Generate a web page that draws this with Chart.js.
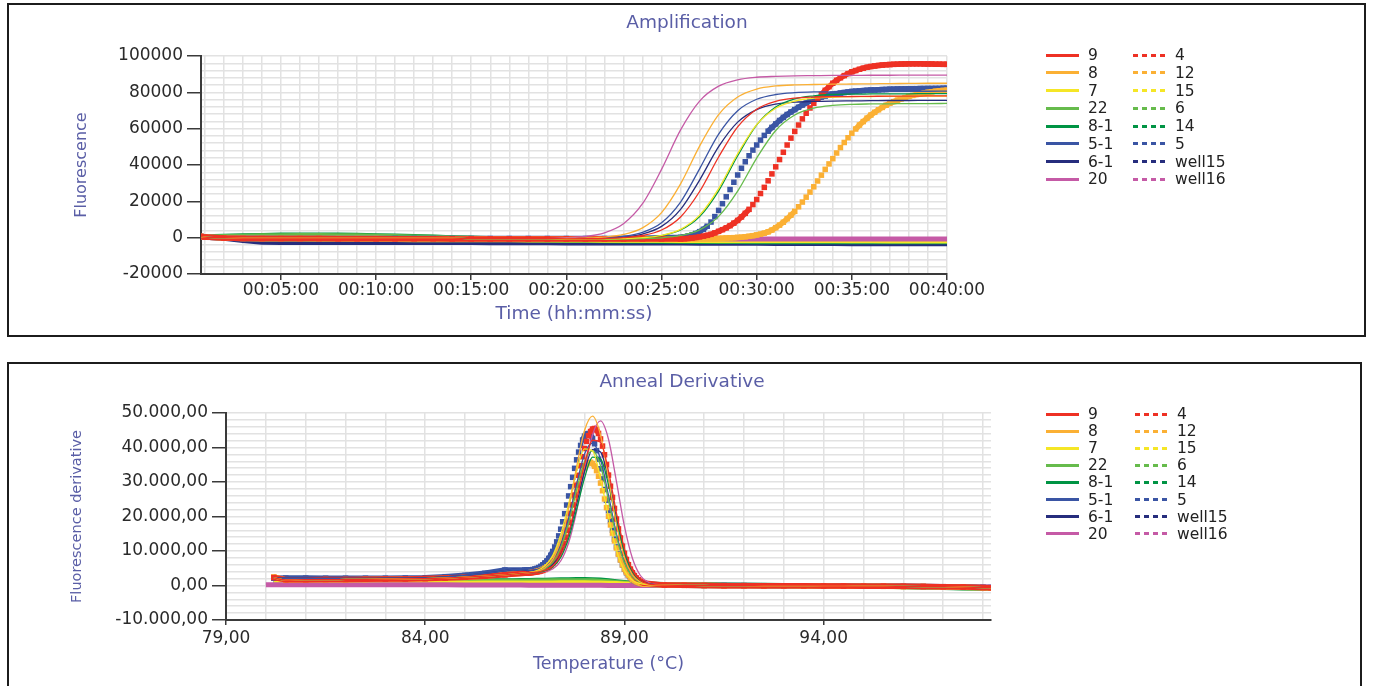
<!DOCTYPE html>
<html>
<head>
<meta charset="utf-8">
<script src="https://cdn.jsdelivr.net/npm/chart.js@4.4.1/dist/chart.umd.min.js"></script>
<style>
  body { margin: 0; background: #fff; font-family: "DejaVu Sans", sans-serif; }
  .panel { position: absolute; border: 2px solid #1c1c1c; overflow: hidden; background: #fff; }
  .title { position: absolute; color: #5a5ea6; font-size: 18.5px; line-height: 22px; transform: translateX(-50%); white-space: nowrap; }
  .row { position: absolute; height: 20px; line-height: 20px; font-size: 15.5px; color: #222; white-space: nowrap; }
  .sw { position: absolute; top: 8.5px; height: 3px; }
</style>
</head>
<body>
<div class="panel" style="left:7px;top:3px;width:1355px;height:330px;">
  <canvas id="ampChart" width="1355" height="330"></canvas>
</div>
<div class="title" style="left:687px;top:11px;">Amplification</div>

<div class="panel" style="left:7px;top:362px;width:1351px;height:330px;">
  <canvas id="meltChart" width="1351" height="322"></canvas>
</div>
<div class="title" style="left:682px;top:370px;">Anneal Derivative</div>

<div id="legends"></div>

<script>
// legend names and colours (same in both charts)
const solidNames = ['9', '8', '7', '22', '8-1', '5-1', '6-1', '20'];
const dotNames = ['4', '12', '15', '6', '14', '5', 'well15', 'well16'];
const wellColors = ['#ee3124', '#fbb034', '#f5e626', '#66bb4c', '#009444', '#3a55a4', '#262d7d', '#c55aa6'];

// ---------- Amplification (time in minutes) ----------
const ampTime = [0.8,1,2,3,4,5,6,7,8,9,10,11,12,13,14,15,16,17,18,19,20,21,22,23,24,25,26,27,28,29,30,31,32,33,34,35,36,37,38,39,40];

const amp9 = [600,300,0,-200,-300,-300,-300,-300,-300,-300,-300,-300,-300,-300,-300,-500,-500,-500,-500,-500,-650,-600,-450,0,1200,4200,11400,25400,44400,61000,70700,75000,76800,77400,77600,77700,77800,77900,77900,78000,78000];
const amp8 = [600,300,0,-200,-300,-300,-300,-300,-300,-300,-300,-300,-300,-300,-300,-500,-500,-500,-500,-500,-400,-200,350,1750,5400,13800,29600,50400,67700,77400,81800,83500,84100,84300,84500,84600,84700,84800,84900,85000,85000];
const amp7 = [600,300,0,-200,-300,-300,-300,-300,-300,-300,-300,-300,-300,-300,-300,-500,-500,-500,-500,-500,-750,-750,-700,-500,0,1300,4600,12400,27000,46200,62200,71200,75200,76800,77300,77600,77700,77800,77800,77900,77900];
const amp22 = [600,300,0,-200,-300,-300,-300,-300,-300,-300,-300,-300,-300,-300,-300,-500,-500,-500,-500,-500,-750,-750,-750,-700,-500,-100,1200,4300,11700,25600,43800,59000,67500,71300,72800,73400,73600,73700,73800,73800,73900];
const amp81 = [600,300,0,-200,-300,-300,-300,-300,-300,-300,-300,-300,-300,-300,-300,-500,-500,-500,-500,-500,-750,-750,-700,-550,-100,1100,4200,11600,25800,45100,62100,71900,76400,78100,78800,79000,79100,79200,79200,79300,79300];
const amp51 = [600,300,0,-200,-300,-300,-300,-300,-300,-300,-300,-300,-300,-300,-300,-500,-500,-500,-500,-500,-550,-400,-100,700,2900,8200,19600,37900,57000,69900,76200,78800,79800,80200,80300,80400,80500,80500,80600,80600,80700];
const amp61 = [600,300,0,-200,-300,-300,-300,-300,-300,-300,-300,-300,-300,-300,-300,-500,-500,-500,-500,-500,-650,-550,-300,300,2000,6200,15600,31700,50100,63600,70500,73500,74600,75000,75200,75300,75400,75500,75500,75600,75600];
const amp20 = [600,300,0,-200,-300,-300,-300,-300,-300,-300,-300,-300,-300,-300,-300,-500,-500,-500,-500,-500,-50,700,2700,7700,18700,37600,59300,75200,83400,86900,88300,88800,89100,89200,89300,89300,89400,89400,89500,89500,89500];

// flat (no amplification) wells
const amp15 = [600,300,-200,-500,-700,-800,-800,-900,-900,-1000,-1000,-1000,-1100,-1100,-1100,-1200,-1200,-1200,-1300,-1300,-1300,-1300,-1400,-1400,-1400,-1400,-1500,-1500,-1500,-1500,-1500,-1600,-1600,-1600,-1600,-1600,-1600,-1700,-1700,-1700,-1700];
const amp6 = [500,400,600,800,1000,1100,1200,1200,1100,1000,800,600,400,200,0,-200,-400,-600,-800,-1000,-1100,-1200,-1300,-1400,-1500,-1600,-1700,-1700,-1800,-1800,-1800,-1900,-1900,-1900,-1900,-2000,-2000,-2000,-2000,-2000,-2000];
const amp14 = [500,500,800,1000,1200,1400,1500,1500,1400,1300,1100,900,600,300,0,-300,-600,-900,-1100,-1300,-1500,-1600,-1700,-1800,-1900,-2000,-2000,-2100,-2100,-2100,-2200,-2200,-2200,-2200,-2300,-2300,-2300,-2300,-2300,-2300,-2300];
const ampWell15 = [600,200,-300,-1500,-2500,-2600,-2600,-2600,-2600,-2600,-2600,-2600,-2600,-2700,-2700,-2700,-2800,-2800,-2800,-2800,-2900,-2900,-2900,-3000,-3000,-3000,-3000,-3100,-3100,-3100,-3100,-3200,-3200,-3200,-3200,-3300,-3300,-3300,-3300,-3300,-3300];
const ampWell16 = [400,100,-100,-200,-200,-300,-300,-300,-300,-300,-300,-400,-400,-400,-400,-400,-500,-500,-500,-500,-500,-500,-500,-600,-600,-600,-600,-600,-600,-700,-700,-700,-700,-700,-700,-700,-800,-800,-800,-800,-800];

// rising wells drawn with markers, one reading every 12 s after 26 min
const ampTimeFine = [0.8,1,2,3,4,5,6,7,8,9,10,11,12,13,14,15,16,17,18,19,20,21,22,23,24,25,
  26,26.2,26.4,26.6,26.8,27,27.2,27.4,27.6,27.8,28,28.2,28.4,28.6,28.8,29,29.2,29.4,29.6,29.8,
  30,30.2,30.4,30.6,30.8,31,31.2,31.4,31.6,31.8,32,32.2,32.4,32.6,32.8,33,33.2,33.4,33.6,33.8,
  34,34.2,34.4,34.6,34.8,35,35.2,35.4,35.6,35.8,36,36.2,36.4,36.6,36.8,37,37.2,37.4,37.6,37.8,
  38,38.2,38.4,38.6,38.8,39,39.2,39.4,39.6,39.8,40];
const amp4 = [700,300,-200,-400,-500,-500,-500,-500,-600,-600,-600,-600,-600,-600,-700,-700,-700,-700,-700,-700,-700,-700,-700,-700,-700,-700,
  -700,-550,-400,-200,100, 450,850,1300,1850,2600, 3500,4400,5400,6600,8000, 9500,11400,13400,15600,18200,
  21000,24300,27700,31300,35100, 39000,43000,47000,51000,54800, 58500,62000,65400,68500,71400, 74000,76500,78900,81100,83100,
  85000,86600,88000,89200,90300, 91300,92000,92700,93300,93800, 94200,94500,94800,95000,95200, 95300,95400,95500,95600,95650,
  95700,95700,95700,95700,95650, 95600,95600,95500,95500,95400, 95400];
const amp12 = [700,300,-200,-400,-500,-500,-500,-500,-500,-500,-500,-600,-600,-600,-600,-600,-600,-600,-600,-600,-600,-600,-600,-600,-600,-600,
  -600,-600,-600,-550,-550, -500,-500,-500,-450,-450, -400,-300,-200,-100,0, 150,300,500,750,1100,
  1500,1950,2500,3200,4200, 5500,6900,8500,10400,12400, 14500,17000,19600,22300,25100, 28000,31200,34400,37600,40600,
  43500,46600,49600,52400,55000, 57500,59800,62000,63900,65800, 67500,69000,70400,71700,72900, 74000,74900,75700,76400,77100,
  77800,78300,78800,79200,79600, 80000,80300,80600,80850,81050, 81200];
const amp5 = [700,300,-200,-400,-500,-500,-500,-500,-500,-500,-500,-500,-500,-500,-500,-500,-500,-500,-500,-500,-500,-500,-500,-450,-300,-100,
  200,500,900,1500,2300, 3300,4600,6300,8600,11600, 15000,18700,22500,26500,30500, 34500,38200,41800,45100,48200,
  51000,53700,56300,58600,60700, 62600,64500,66200,67800,69200, 70500,71800,73000,74100,75100, 76000,76700,77400,78000,78500,
  79000,79300,79600,79900,80200, 80500,80650,80800,80950,81100, 81250,81300,81400,81500,81600, 81700,81750,81800,81850,81900,
  81950,82000,82000,82050,82050, 82100,82100,82150,82150,82200, 82200];

// ---------- Anneal derivative (temperature in °C) ----------
const meltTemp = [80.0,80.2,80.5,81,81.5,82,82.5,83,83.5,84,84.5,85,85.5,86,
  86.2,86.4,86.6,86.8,87,87.2,87.4,87.6,87.8,88,88.2,88.4,88.6,88.8,89,89.2,89.4,89.6,89.8,90,
  90.5,91,91.5,92,92.5,93,93.5,94,94.5,95,95.5,96,96.5,97,97.5,98,98.2];

const melt9 = [null,2200,1600,1700,1700,1750,1800,1850,1900,2000,2150,2400,2700,3100,
  3300,3500,3650,3850,4350,5600,8800,15200,24800,35200,42100,41500,33100,21000,10750,4500,1550,500,170,110,
  50,0,-50,-50,-100,-100,-100,-150,-150,-200,-200,-250,-300,-350,-450,-600,-650];
const melt8 = [null,2200,1600,1700,1700,1750,1800,1850,1900,2000,2150,2400,2700,3100,
  3300,3500,3700,4100,5100,7500,13000,22300,34400,45000,49100,43600,31100,17700,8100,3100,1000,350,150,100,
  50,0,-50,-50,-100,-100,-100,-150,-150,-200,-200,-250,-300,-350,-450,-600,-650];
const melt7 = [null,2200,1600,1700,1700,1750,1800,1850,1900,2000,2150,2400,2700,3100,
  3300,3530,3750,4300,5640,8700,14700,23600,33200,39600,39000,31000,19850,10200,4300,1550,520,215,110,100,
  50,0,-50,-50,-100,-100,-100,-150,-150,-200,-200,-250,-300,-350,-450,-600,-650];
const melt22 = [null,2200,1600,1700,1700,1750,1800,1850,1900,2000,2150,2400,2700,3100,
  3300,3510,3670,4000,4770,6680,10900,18200,27700,36000,39100,34700,24700,14100,6500,2500,830,300,130,100,
  50,0,-50,-50,-100,-100,-100,-150,-150,-200,-200,-250,-300,-350,-450,-600,-650];
const melt81 = [null,2200,1600,1700,1700,1750,1800,1850,1900,2000,2150,2400,2700,3100,
  3300,3500,3630,3840,4260,5340,8140,13700,22100,31200,37200,36700,29200,18600,9500,4000,1380,450,160,100,
  50,0,-50,-50,-100,-100,-100,-150,-150,-200,-200,-250,-300,-350,-450,-600,-650];
const melt51 = [null,2100,2100,2100,2050,2050,2050,2100,2100,2200,2500,2900,3500,4300,
  4700,4600,4400,4600,5500,7550,11900,19500,29400,38100,41300,36600,26100,14900,6900,2700,900,350,180,100,
  50,0,-50,-50,-100,-100,-100,-150,-150,-200,-200,-250,-300,-350,-450,-600,-650];
const melt61 = [null,2100,2100,2100,2050,2050,2050,2100,2100,2200,2500,2900,3500,4300,
  4700,4600,4330,4450,5000,6150,9000,14800,23600,33100,39400,38700,30800,19650,10100,4200,1500,520,215,110,
  50,0,-50,-50,-100,-100,-100,-150,-150,-200,-200,-250,-300,-350,-450,-600,-650];
const melt20 = [null,2200,1600,1700,1700,1750,1800,1850,1900,2000,2150,2400,2700,3100,
  3300,3500,3600,3800,4100,4800,7100,12400,21500,33300,43700,47700,42400,30100,17200,7900,2900,950,300,150,
  50,0,-50,-50,-100,-100,-100,-150,-150,-200,-200,-250,-300,-350,-450,-600,-650];

const melt15 = [null,700,600,600,600,600,600,600,600,600,650,650,700,700,
  700,700,700,750,750,750,800,800,800,800,750,700,650,550,450,350,300,250,200,150,
  100,50,0,0,-50,-100,-100,-150,-200,-200,-250,-300,-350,-400,-500,-600,-650];
const melt6 = [null,1300,1000,1000,1000,1050,1050,1050,1100,1100,1100,1150,1150,1200,
  1200,1250,1250,1300,1300,1350,1350,1400,1400,1400,1350,1250,1100,900,700,550,450,350,300,250,
  200,150,100,50,0,0,-50,-100,-150,-200,-250,-300,-400,-500,-650,-800,-850];
const melt14 = [null,1500,1200,1200,1200,1250,1250,1250,1300,1300,1300,1350,1350,1400,
  1400,1450,1450,1500,1550,1600,1650,1700,1750,1750,1700,1600,1400,1100,850,650,500,400,350,300,
  250,200,150,100,50,0,-50,-100,-150,-200,-250,-350,-450,-550,-700,-800,-850];
const meltWell15 = [null,900,700,700,700,700,700,700,700,700,750,750,750,800,
  800,800,800,800,850,850,850,850,850,800,750,700,600,500,400,300,250,200,150,150,
  100,50,0,0,-50,-50,-100,-100,-150,-150,-200,-250,-300,-350,-450,-550,-600];
const meltWell16 = [200,200,200,250,250,250,250,200,200,200,200,150,150,150,
  150,150,100,100,100,100,50,50,50,50,50,50,0,0,0,0,0,0,0,0,
  0,0,-50,-50,-50,-100,-100,-100,-150,-150,-200,-200,-250,-300,-350,-400,-450];

// marker wells with a peak: dense readings across the melt peak
const meltTempFine = [80.2,80.5,81,81.5,82,82.5,83,83.5,84,84.5,85,85.5,86,86.5,
  86.55,86.6,86.65,86.7,86.75,86.8,86.85,86.9,86.95,87,
  87.05,87.1,87.15,87.2,87.25,87.3,87.35,87.4,87.45,87.5,
  87.55,87.6,87.65,87.7,87.75,87.8,87.85,87.9,87.95,88,
  88.05,88.1,88.15,88.2,88.25,88.3,88.35,88.4,88.45,88.5,
  88.55,88.6,88.65,88.7,88.75,88.8,88.85,88.9,88.95,89,
  89.05,89.1,89.15,89.2,89.25,89.3,89.35,89.4,89.45,89.5,
  90,90.5,91,91.5,92,92.5,93,93.5,94,94.5,95,95.5,96,96.5,97,97.5,98,98.2];
const melt4 = [2300,1700,1700,1750,1750,1800,1850,1900,2000,2150,2400,2700,3100,3550,
  3610,3650,3700,3770,3850,3950,4050,4190,4380,4630,
  4910,5280,5770,6390,7150,8090,9230,10590,12160,13970,
  16020,18300,20790,23450,26230,29090,31940,34720,37330,39710,
  41760,43420,44630,45330,45500,45090,44070,42480,40410,37900,
  35070,32000,28780,25540,22340,19270,16410,13780,11420,9330,
  7550,6030,4760,3710,2860,2180,1650,1230,930,700,
  110,50,0,-50,-50,-100,-100,-100,-150,-150,-200,-200,-250,-300,-350,-450,-600,-650];
const melt12 = [2500,1600,1650,1700,1700,1750,1800,1850,1950,2100,2350,2700,3150,3550,
  3640,3690,3760,3840,3940,4080,4220,4420,4670,5000,
  5360,5830,6430,7160,8030,9060,10280,11680,13240,14980,
  16880,18910,21040,23220,25410,27530,29520,31340,32900,34160,
  35070,35590,35700,35360,34550,33300,31660,29680,27470,25080,
  22580,20050,17560,15180,12930,10870,9030,7400,5990,4790,
  3800,2990,2320,1790,1380,1050,800,605,470,370,
  110,60,0,-50,-50,-100,-100,-150,-150,-200,-200,-250,-300,-300,-400,-500,-650,-700];
const melt5 = [2100,2150,2150,2100,2100,2100,2100,2150,2250,2550,2950,3550,4500,4500,
  4490,4460,4540,4630,4770,4950,5210,5550,5980,6520,
  7110,7860,8770,9880,11160,12650,14380,16320,18470,20820,
  23320,25960,28650,31350,33960,36430,38670,40600,42150,43280,
  43920,44050,43630,42630,41080,39050,36600,33840,30910,27840,
  24730,21680,18750,15990,13450,11180,9180,7450,5970,4730,
  3720,2900,2230,1710,1310,1010,775,600,480,390,
  150,80,30,0,-30,-60,-100,-100,-150,-150,-200,-200,-250,-300,-350,-450,-550,-600];

// ---------- helpers ----------
Chart.defaults.font.family = '"DejaVu Sans", sans-serif';
Chart.defaults.color = '#2a2a2a';

const pts = (xs, ys) => xs.map((x, i) => ({x: x, y: ys[i]}));
const onStep = (v, step) => Math.abs(v / step - Math.round(v / step)) < 1e-6;
// marker wells: a thick line where the curve is flat, loose squares where it climbs
const hideSteep = ctx => Math.abs(ctx.p1.y - ctx.p0.y) > 4 ? 'rgba(0,0,0,0)' : undefined;

function thin(label, xs, ys, color) {
  return {label, data: pts(xs, ys), borderColor: color, borderWidth: 1.3, pointRadius: 0,
    cubicInterpolationMode: 'monotone', order: 0};
}
function band(label, xs, ys, color, order) {
  return {label, data: pts(xs, ys), borderColor: color, borderWidth: 5, pointRadius: 0, order: order};
}
function dots(label, xs, ys, color) {
  return {label, data: pts(xs, ys), borderColor: color, borderWidth: 5.5, pointRadius: 3.9,
    pointStyle: 'rect', pointBorderWidth: 0, pointBackgroundColor: color,
    segment: {borderColor: hideSteep}, order: 1};
}
function deNum(v, dec) {
  const parts = Math.abs(v).toFixed(dec).split('.');
  const int = parts[0].replace(/\B(?=(\d{3})+(?!\d))/g, '.');
  return (v < 0 ? '-' : '') + int + ',' + parts[1];
}

function axis(opts) {
  return {
    type: 'linear', min: opts.min, max: opts.max,
    afterFit: opts.fit,
    border: {color: '#3a3a3a', width: 2},
    grid: {
      color: '#e2e2e2', lineWidth: 1.5, tickLength: opts.tickLength, tickWidth: 1.5,
      tickColor: ctx => opts.major(ctx.tick.value) ? '#3a3a3a' : 'rgba(0,0,0,0)'
    },
    ticks: {
      stepSize: opts.step, autoSkip: false, includeBounds: false, maxRotation: 0,
      padding: opts.padding, color: '#2a2a2a', font: {size: 17},
      callback: v => opts.major(v) ? opts.label(v) : ''
    },
    title: {display: true, text: opts.title, color: '#5a5ea6', font: {size: opts.titleSize}, padding: opts.titlePad}
  };
}

function baseOptions(padding, xAxis, yAxis) {
  return {
    responsive: false, animation: false, devicePixelRatio: 1,
    layout: {padding: padding},
    plugins: {legend: {display: false}, tooltip: {enabled: false}},
    scales: {x: xAxis, y: yAxis}
  };
}

// ---------- Amplification chart ----------
new Chart(document.getElementById('ampChart'), {
  type: 'line',
  data: {
    datasets: [
      thin('9', ampTime, amp9, wellColors[0]),
      thin('8', ampTime, amp8, wellColors[1]),
      thin('7', ampTime, amp7, wellColors[2]),
      thin('22', ampTime, amp22, wellColors[3]),
      thin('8-1', ampTime, amp81, wellColors[4]),
      thin('5-1', ampTime, amp51, wellColors[5]),
      thin('6-1', ampTime, amp61, wellColors[6]),
      thin('20', ampTime, amp20, wellColors[7]),
      dots('4', ampTimeFine, amp4, wellColors[0]),
      dots('12', ampTimeFine, amp12, wellColors[1]),
      band('15', ampTime, amp15, wellColors[2], 3),
      band('6', ampTime, amp6, wellColors[3], 3),
      band('14', ampTime, amp14, wellColors[4], 3),
      dots('5', ampTimeFine, amp5, wellColors[5]),
      band('well15', ampTime, ampWell15, wellColors[6], 3),
      band('well16', ampTime, ampWell16, wellColors[7], 2)
    ]
  },
  options: baseOptions({left: 0, top: 51, right: 417, bottom: 0},
    axis({min: 0.8, max: 40, step: 1, tickLength: 6, padding: 0,
      major: v => onStep(v, 5),
      label: v => '00:' + String(Math.round(v)).padStart(2, '0') + ':00',
      title: 'Time (hh:mm:ss)', titleSize: 18.5, titlePad: {top: 0, bottom: 10},
      fit: s => { s.height = 61; }}),
    axis({min: -20000, max: 100000, step: 4000, tickLength: 14, padding: 4,
      major: v => onStep(v, 20000),
      label: v => String(Math.round(v)),
      title: 'Fluorescence', titleSize: 16, titlePad: {top: 63, bottom: 0},
      fit: s => { s.width = 192; }}))
});

// ---------- Anneal derivative chart ----------
new Chart(document.getElementById('meltChart'), {
  type: 'line',
  data: {
    datasets: [
      thin('9', meltTemp, melt9, wellColors[0]),
      thin('8', meltTemp, melt8, wellColors[1]),
      thin('7', meltTemp, melt7, wellColors[2]),
      thin('22', meltTemp, melt22, wellColors[3]),
      thin('8-1', meltTemp, melt81, wellColors[4]),
      thin('5-1', meltTemp, melt51, wellColors[5]),
      thin('6-1', meltTemp, melt61, wellColors[6]),
      thin('20', meltTemp, melt20, wellColors[7]),
      dots('4', meltTempFine, melt4, wellColors[0]),
      dots('12', meltTempFine, melt12, wellColors[1]),
      band('15', meltTemp, melt15, wellColors[2], 3),
      band('6', meltTemp, melt6, wellColors[3], 3),
      band('14', meltTemp, melt14, wellColors[4], 3),
      dots('5', meltTempFine, melt5, wellColors[5]),
      band('well15', meltTemp, meltWell15, wellColors[6], 3),
      band('well16', meltTemp, meltWell16, wellColors[7], 2)
    ]
  },
  options: baseOptions({left: 0, top: 49, right: 369, bottom: 0},
    axis({min: 79, max: 98.2, step: 1, tickLength: 5, padding: 3,
      major: v => onStep(v - 79, 5),
      label: v => deNum(v, 2),
      title: 'Temperature (°C)', titleSize: 17.5, titlePad: {top: 0, bottom: 11},
      fit: s => { s.height = 66; }}),
    axis({min: -10000, max: 50000, step: 2000, tickLength: 14, padding: 4,
      major: v => onStep(v, 10000),
      label: v => deNum(v, 2),
      title: 'Fluorescence derivative', titleSize: 14.5, titlePad: {top: 60, bottom: 0},
      fit: s => { s.width = 217; }}))
});

// ---------- legends (two columns: solid lines, then marker wells) ----------
function addLegend(firstRow, rowStep, solidX, dotX, textGap) {
  const box = document.getElementById('legends');
  for (let i = 0; i < solidNames.length; i++) {
    const top = firstRow + i * rowStep - 10;
    [[solidX, solidNames[i], false], [dotX, dotNames[i], true]].forEach(([x, name, dotted]) => {
      const row = document.createElement('div');
      row.className = 'row';
      row.style.left = x + 'px';
      row.style.top = top + 'px';
      const sw = document.createElement('span');
      sw.className = 'sw';
      sw.style.left = '0px';
      sw.style.width = '33px';
      sw.style.background = dotted
        ? 'repeating-linear-gradient(to right, ' + wellColors[i] + ' 0 5px, transparent 5px 9px)'
        : wellColors[i];
      const txt = document.createElement('span');
      txt.style.position = 'absolute';
      txt.style.left = textGap + 'px';
      txt.textContent = name;
      row.appendChild(sw);
      row.appendChild(txt);
      box.appendChild(row);
    });
  }
}
addLegend(55, 17.75, 1046, 1133, 42);
addLegend(414, 17.1, 1046, 1135, 42);
</script>
</body>
</html>
